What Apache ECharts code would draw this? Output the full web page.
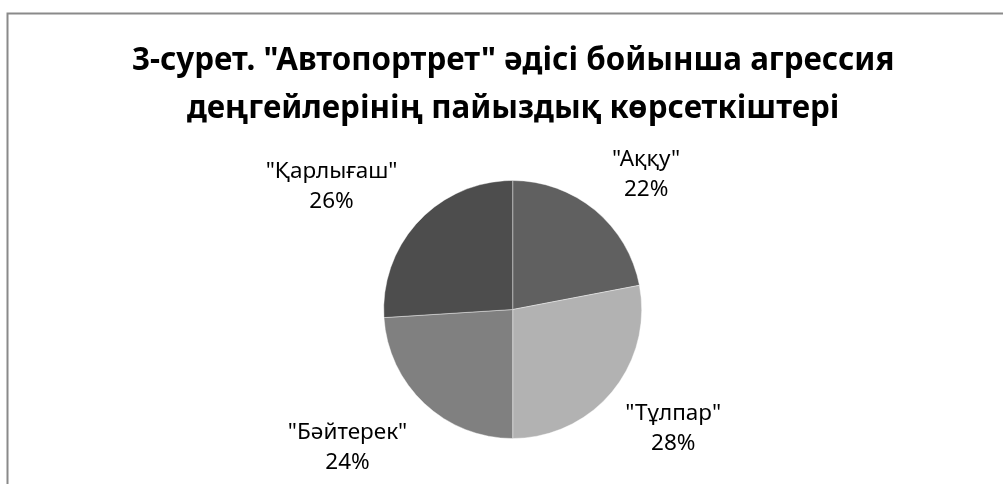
<!DOCTYPE html>
<html>
<head>
<meta charset="utf-8">
<script src="https://cdn.jsdelivr.net/npm/echarts@6/dist/echarts.min.js"></script>
<style>
  html, body { margin: 0; padding: 0; background: #fff; }
  #chart { width: 1003px; height: 484px; }
</style>
</head>
<body>
<div id="chart"></div>
<script>
// Aggression levels by group (percent)
const categories = ['"Аққу"', '"Тұлпар"', '"Бәйтерек"', '"Қарлығаш"'];
const values = [22, 28, 24, 26];
const sliceColors = ['#606060', '#b2b2b2', '#808080', '#4d4d4d'];
const titleLines = [
  '3-сурет. "Автопортрет" әдісі бойынша агрессия',
  'деңгейлерінің пайыздық көрсеткіштері'
];

// Pie geometry
const CX = 512.7, CY = 309.5, R = 129;
// Label placement: distance from the pie centre and angular nudge (deg) per slice
const labelRadius = [190, 200, 215, 219];
const labelNudge = [5, -3, 7, -9];

const total = values.reduce((a, b) => a + b, 0);
const midAngles = [];
let acc = 0;
values.forEach(v => { midAngles.push((acc + v / 2) / total * 360); acc += v; });

const chart = echarts.init(document.getElementById('chart'), null, { renderer: 'canvas' });
chart.setOption({
  backgroundColor: '#ffffff',
  animation: false,
  title: {
    text: titleLines.map(s => '{t|' + s + '}').join('\n'),
    left: 127,
    top: 32,
    textStyle: {
      rich: {
        t: {
          fontFamily: 'Noto Sans',
          fontWeight: 'bold',
          fontSize: 31.3,
          lineHeight: 48,
          color: '#000000',
          align: 'center'
        }
      }
    }
  },
  graphic: [{
    type: 'rect',
    silent: true,
    shape: { x: 7.5, y: 13.5, width: 1100, height: 600 },
    style: { fill: 'none', stroke: '#8a8a8a', lineWidth: 2 }
  }],
  series: [{
    type: 'pie',
    center: [CX, CY],
    radius: R,
    startAngle: 90,
    clockwise: true,
    avoidLabelOverlap: false,
    itemStyle: { borderColor: 'rgba(255,255,255,0.5)', borderWidth: 0.8 },
    label: {
      show: true,
      position: 'outside',
      formatter: p => '{a|' + p.name + '}\n{a|' + p.value + '%}',
      rich: {
        a: {
          fontFamily: 'Noto Sans',
          fontSize: 22.5,
          lineHeight: 30,
          color: '#000000',
          align: 'center'
        }
      }
    },
    labelLine: { show: false },
    labelLayout: params => {
      const i = params.dataIndex;
      const a = (midAngles[i] + labelNudge[i]) * Math.PI / 180;
      return {
        x: CX + labelRadius[i] * Math.sin(a),
        y: CY - labelRadius[i] * Math.cos(a),
        align: 'center',
        verticalAlign: 'middle'
      };
    },
    data: categories.map((c, i) => ({
      name: c,
      value: values[i],
      itemStyle: { color: sliceColors[i] }
    }))
  }]
});
</script>
</body>
</html>
